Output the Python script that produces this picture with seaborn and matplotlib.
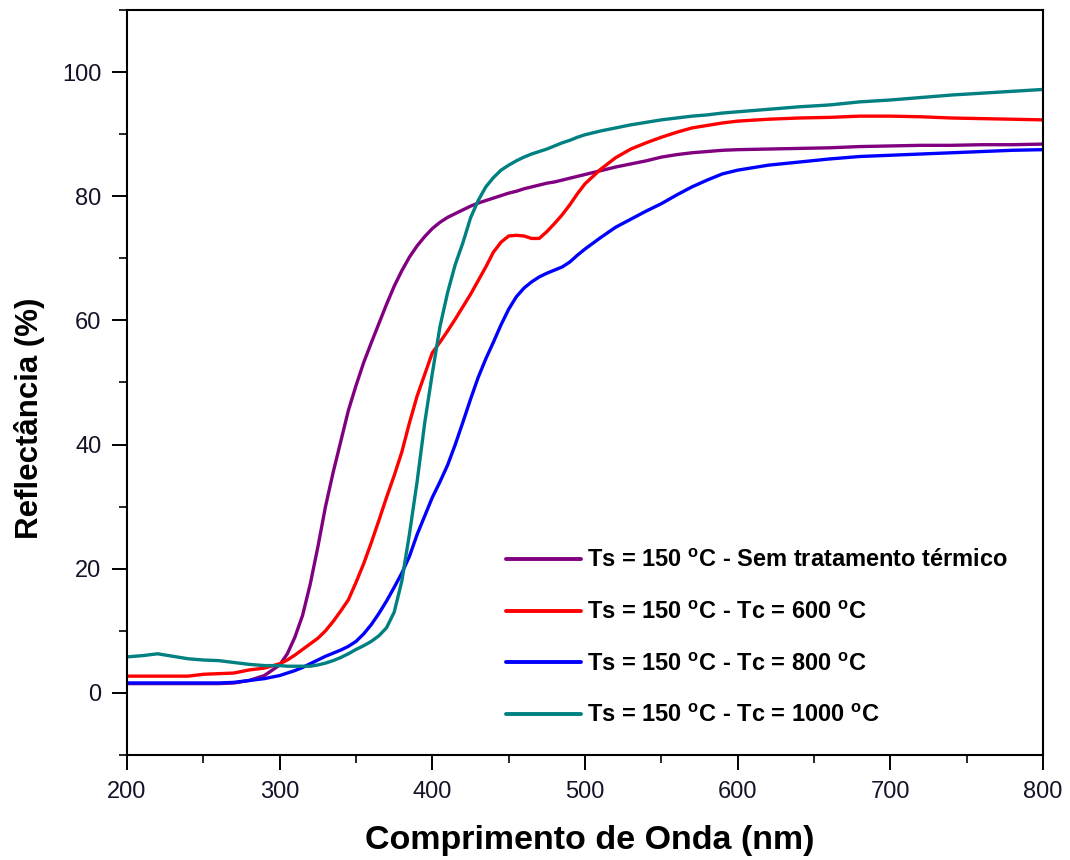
import numpy as np
import pandas as pd
import matplotlib
matplotlib.use("Agg")
import matplotlib.pyplot as plt
from matplotlib.ticker import MultipleLocator
import seaborn as sns

# Wavelength grid (nm)
wavelength = [200, 210, 220, 230, 240, 250, 260, 270, 280, 290,
              300, 305, 310, 315, 320, 325, 330, 335, 340, 345,
              350, 355, 360, 365, 370, 375, 380, 385, 390, 395,
              400, 405, 410, 415, 420, 425, 430, 435, 440, 445,
              450, 455, 460, 465, 470, 475, 480, 485, 490, 495,
              500, 510, 520, 530, 540, 550, 560, 570, 580, 590,
              600, 620, 640, 660, 680, 700, 720, 740, 760, 780, 800]

# Reflectance (%) for each sample
sem_tratamento = [1.5, 1.5, 1.5, 1.5, 1.5, 1.5, 1.5, 1.6, 2.0, 2.8,
                  4.5, 6.3, 9.0, 12.5, 17.5, 23.5, 30.0, 35.5, 40.5, 45.5,
                  49.5, 53.2, 56.4, 59.5, 62.6, 65.5, 68.0, 70.2, 72.0, 73.5,
                  74.8, 75.8, 76.6, 77.2, 77.8, 78.4, 78.9, 79.3, 79.7, 80.1,
                  80.5, 80.8, 81.2, 81.5, 81.8, 82.1, 82.3, 82.6, 82.9, 83.2,
                  83.5, 84.1, 84.7, 85.2, 85.7, 86.3, 86.7, 87.0, 87.2, 87.4,
                  87.5, 87.6, 87.7, 87.8, 88.0, 88.1, 88.2, 88.2, 88.3, 88.3, 88.4]

tc_600 = [2.7, 2.7, 2.7, 2.7, 2.7, 3.0, 3.1, 3.2, 3.7, 4.0,
          4.7, 5.3, 6.1, 7.0, 7.9, 8.8, 10.0, 11.5, 13.2, 15.0,
          17.8, 20.8, 24.2, 27.8, 31.5, 35.0, 38.8, 43.5, 47.8, 51.3,
          54.8, 56.5, 58.3, 60.2, 62.2, 64.2, 66.4, 68.6, 71.0, 72.6,
          73.6, 73.7, 73.6, 73.2, 73.2, 74.3, 75.6, 77.0, 78.6, 80.4,
          82.0, 84.3, 86.2, 87.6, 88.6, 89.5, 90.3, 91.0, 91.4, 91.8,
          92.1, 92.4, 92.6, 92.7, 92.9, 92.9, 92.8, 92.6, 92.5, 92.4, 92.3]

tc_800 = [1.6, 1.6, 1.6, 1.6, 1.6, 1.6, 1.6, 1.7, 2.0, 2.3,
          2.8, 3.2, 3.6, 4.1, 4.7, 5.3, 5.9, 6.4, 6.9, 7.5,
          8.3, 9.5, 11.0, 12.8, 14.8, 17.0, 19.3, 22.0, 25.5, 28.5,
          31.5, 34.0, 36.7, 40.0, 43.6, 47.3, 50.8, 53.8, 56.5, 59.3,
          61.8, 63.8, 65.2, 66.2, 67.0, 67.6, 68.1, 68.6, 69.4, 70.5,
          71.5, 73.3, 75.0, 76.3, 77.6, 78.8, 80.2, 81.5, 82.6, 83.6,
          84.2, 85.0, 85.5, 86.0, 86.4, 86.6, 86.8, 87.0, 87.2, 87.4, 87.5]

tc_1000 = [5.8, 6.0, 6.3, 5.9, 5.5, 5.3, 5.2, 4.9, 4.6, 4.4,
           4.4, 4.3, 4.3, 4.3, 4.3, 4.5, 4.8, 5.2, 5.7, 6.3,
           7.0, 7.6, 8.3, 9.2, 10.5, 13.0, 18.0, 25.6, 34.0, 43.5,
           51.5, 59.0, 64.5, 69.0, 72.5, 76.5, 79.3, 81.5, 83.0, 84.2,
           85.0, 85.7, 86.3, 86.8, 87.2, 87.6, 88.1, 88.6, 89.0, 89.5,
           89.9, 90.5, 91.0, 91.5, 91.9, 92.3, 92.6, 92.9, 93.1, 93.4,
           93.6, 94.0, 94.4, 94.7, 95.2, 95.5, 95.9, 96.3, 96.6, 96.9, 97.2]

labels = [r"Ts = 150 $^{\mathbf{o}}$C - Sem tratamento térmico",
          r"Ts = 150 $^{\mathbf{o}}$C - Tc = 600 $^{\mathbf{o}}$C",
          r"Ts = 150 $^{\mathbf{o}}$C - Tc = 800 $^{\mathbf{o}}$C",
          r"Ts = 150 $^{\mathbf{o}}$C - Tc = 1000 $^{\mathbf{o}}$C"]
colors = ["#800080", "#ff0000", "#0000ff", "#008080"]

frames = []
for lab, vals in zip(labels, [sem_tratamento, tc_600, tc_800, tc_1000]):
    frames.append(pd.DataFrame({"wl": wavelength, "R": vals, "amostra": lab}))
df = pd.concat(frames, ignore_index=True)

sns.set_style("ticks")
plt.rcParams["font.family"] = ["Liberation Sans", "DejaVu Sans"]
plt.rcParams["mathtext.fontset"] = "custom"
plt.rcParams["mathtext.rm"] = "Liberation Sans"
plt.rcParams["mathtext.bf"] = "Liberation Sans:bold"
plt.rcParams["text.color"] = "black"
plt.rcParams["axes.labelcolor"] = "black"

fig = plt.figure(figsize=(10.7, 8.6), dpi=100)
ax = fig.add_axes([0.1187, 0.1221, 0.8561, 0.8663])

sns.lineplot(data=df, x="wl", y="R", hue="amostra", palette=colors,
             sort=False, linewidth=2.4, ax=ax, legend=True)

ax.set_xlim(200, 800)
ax.set_ylim(-10, 110)
ax.xaxis.set_major_locator(MultipleLocator(100))
ax.xaxis.set_minor_locator(MultipleLocator(50))
ax.yaxis.set_minor_locator(MultipleLocator(10))
ax.set_yticks([0, 20, 40, 60, 80, 100])
ax.tick_params(axis="both", which="major", direction="out", length=10.5,
               width=1.4, labelsize=17, colors="black", labelcolor="#141428",
               top=False, right=False, pad=8)
ax.tick_params(axis="both", which="minor", direction="out", length=5.5,
               width=1.4, top=False, right=False)
for sp in ax.spines.values():
    sp.set_visible(True)
    sp.set_linewidth(1.5)
    sp.set_color("black")

ax.set_xlabel("Comprimento de Onda (nm)", fontsize=24.5, fontweight="bold")
ax.set_ylabel("Reflectância (%)", fontsize=22.5, fontweight="bold")
ax.xaxis.set_label_coords(0.505, -0.094)
ax.yaxis.set_label_coords(-0.089, 0.452)

leg = ax.legend(loc="upper left", bbox_to_anchor=(0.39, 0.305),
                frameon=False, handlelength=3.2, handletextpad=0.25,
                labelspacing=1.22, prop={"weight": "bold", "size": 17})
for h in leg.get_lines():
    h.set_linewidth(2.8)

fig.savefig("out.png", dpi=100)
